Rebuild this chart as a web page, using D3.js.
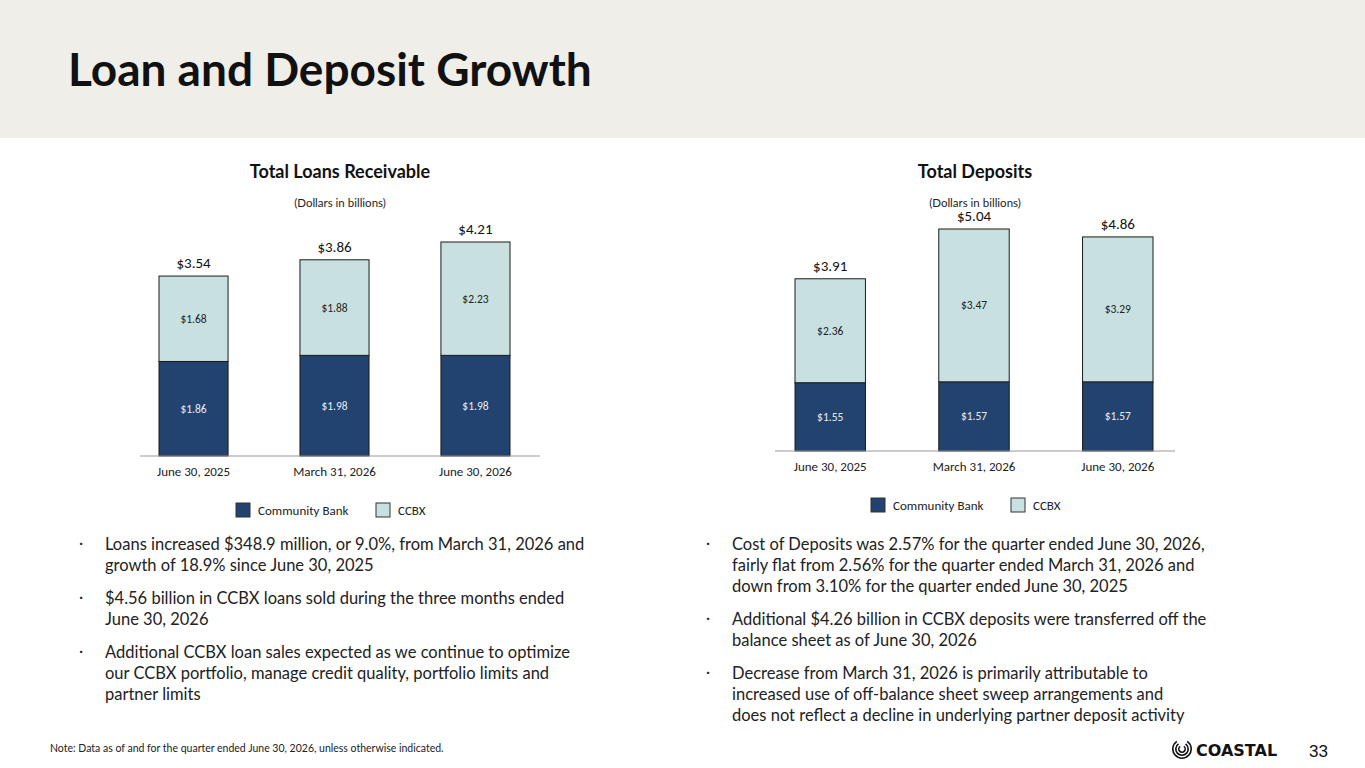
<!DOCTYPE html>
<html><head><meta charset="utf-8">
<script src="https://cdn.jsdelivr.net/npm/d3@7"></script>
<style>
body{margin:0;background:#fff;}
svg{display:block;}
</style></head>
<body><svg></svg>
<script>
const categories = ["June 30, 2025", "March 31, 2026", "June 30, 2026"];
const loansCommunity = [1.86, 1.98, 1.98];
const loansCCBX = [1.68, 1.88, 2.23];
const loansTotal = [3.54, 3.86, 4.21];
const depCommunity = [1.55, 1.57, 1.57];
const depCCBX = [2.36, 3.47, 3.29];
const depTotal = [3.91, 5.04, 4.86];
const seriesNames = ["Community Bank", "CCBX"];

const W = 1365, H = 768;
const navy = "#22426f", light = "#c9e0e0";
const svg = d3.select("svg").attr("width", W).attr("height", H);
const font = "Lato, 'Open Sans', sans-serif";
const calibri = "Carlito, 'Liberation Sans', 'Open Sans', sans-serif";

// header band
svg.append("rect").attr("width", W).attr("height", 138).attr("fill", "#efeee9");
svg.append("text").attr("x", 68).attr("y", 86).text("Loan and Deposit Growth")
    .style("font-family", font).style("font-weight", 700).style("font-size", "46px").attr("fill", "#111");

function drawChart(opt){
    const g = svg.append("g");
    const x = d3.scaleBand().domain(categories).range([opt.b0, opt.b1]).paddingInner(0.51).paddingOuter(0);
    const y = d3.scaleLinear().domain([0, opt.max]).range([opt.base, opt.top]);
    const stacked = d3.stack().keys([0, 1])(categories.map((c, i) => ({c, 0: opt.a[i], 1: opt.b[i]})));

    stacked.forEach((s, k) => {
        g.selectAll(null).data(s).enter().append("rect")
            .attr("x", d => x(d.data.c)).attr("width", x.bandwidth())
            .attr("y", d => y(d[1])).attr("height", d => y(d[0]) - y(d[1]))
            .attr("fill", k ? light : navy).attr("stroke", "#1b1b1b").attr("stroke-width", 1);
        g.selectAll(null).data(s).enter().append("text")
            .attr("x", d => x(d.data.c) + x.bandwidth() / 2)
            .attr("y", d => (y(d[0]) + y(d[1])) / 2 + 4)
            .attr("text-anchor", "middle").attr("fill", k ? "#222" : "#e8eef6")
            .style("font-family", calibri).style("font-size", "11.5px")
            .text(d => "$" + (d[1] - d[0]).toFixed(2));
    });
    g.selectAll(null).data(opt.t).enter().append("text")
        .attr("x", (d, i) => x(categories[i]) + x.bandwidth() / 2)
        .attr("y", d => y(d) - 8).attr("text-anchor", "middle")
        .style("font-family", calibri).style("font-size", "15px").attr("fill", "#111")
        .text(d => "$" + d.toFixed(2));

    const axis = g.append("g").attr("transform", `translate(0,${opt.base})`)
        .call(d3.axisBottom(x).tickSize(0).tickPadding(11));
    axis.select(".domain").remove();
    g.append("line").attr("x1", opt.x0).attr("x2", opt.x1).attr("y1", opt.base).attr("y2", opt.base).attr("stroke", "#999");
    axis.selectAll("text").style("font-family", calibri).style("font-size", "13px").attr("fill", "#222");

    const cx = (opt.x0 + opt.x1) / 2;
    g.append("text").attr("x", cx).attr("y", 178).attr("text-anchor", "middle").text(opt.title)
        .style("font-family", font).style("font-weight", 700).style("font-size", "18px").attr("fill", "#111");
    g.append("text").attr("x", cx).attr("y", 207).attr("text-anchor", "middle").text("(Dollars in billions)")
        .style("font-family", font).style("font-size", "11.5px").attr("fill", "#222");

    const lg = g.append("g").attr("transform", `translate(${cx - 104},${opt.base + 54})`);
    seriesNames.forEach((n, i) => {
        const ox = i ? 140 : 0;
        lg.append("rect").attr("x", ox).attr("y", -7).attr("width", 14).attr("height", 14)
            .attr("fill", i ? light : navy).attr("stroke", "#333");
        lg.append("text").attr("x", ox + 22).attr("y", 5).text(n)
            .style("font-family", calibri).style("font-size", "13px").attr("fill", "#222");
    });
}

drawChart({x0: 140, x1: 540, b0: 159, b1: 510, base: 456, top: 242, max: 4.21, a: loansCommunity, b: loansCCBX, t: loansTotal, title: "Total Loans Receivable"});
drawChart({x0: 775, x1: 1175, b0: 795, b1: 1153, base: 451, top: 229, max: 5.04, a: depCommunity, b: depCCBX, t: depTotal, title: "Total Deposits"});

function bullets(x, y, items){
    items.forEach(lines => {
        svg.append("text").attr("x", x - 26).attr("y", y - 2).text("·")
            .style("font-family", font).style("font-size", "16px").attr("fill", "#222");
        lines.forEach(l => {
            svg.append("text").attr("x", x).attr("y", y).text(l)
                .style("font-family", font).style("font-size", "16.5px").attr("fill", "#222");
            y += 21;
        });
        y += 12;
    });
}
bullets(105, 550, [
    ["Loans increased $348.9 million, or 9.0%, from March 31, 2026 and", "growth of 18.9% since June 30, 2025"],
    ["$4.56 billion in CCBX loans sold during the three months ended", "June 30, 2026"],
    ["Additional CCBX loan sales expected as we continue to optimize", "our CCBX portfolio, manage credit quality, portfolio limits and", "partner limits"]
]);
bullets(732, 550, [
    ["Cost of Deposits was 2.57% for the quarter ended June 30, 2026,", "fairly flat from 2.56% for the quarter ended March 31, 2026 and", "down from 3.10% for the quarter ended June 30, 2025"],
    ["Additional $4.26 billion in CCBX deposits were transferred off the", "balance sheet as of June 30, 2026"],
    ["Decrease from March 31, 2026 is primarily attributable to", "increased use of off-balance sheet sweep arrangements and", "does not reflect a decline in underlying partner deposit activity"]
]);

svg.append("text").attr("x", 50).attr("y", 752).text("Note:  Data as of and for the quarter ended June 30, 2026, unless otherwise indicated.")
    .style("font-family", font).style("font-size", "10.5px").attr("fill", "#222");

// logo
const logo = svg.append("g").attr("transform", "translate(1182,749)");
[10, 7, 4].forEach(r => logo.append("path")
    .attr("d", d3.arc()({innerRadius: r - 1.6, outerRadius: r, startAngle: 0.6, endAngle: 2 * Math.PI - 0.6}))
    .attr("fill", "#111"));
svg.append("text").attr("x", 1196).attr("y", 756).text("COASTAL")
    .style("font-family", "'DejaVu Sans', sans-serif").style("font-weight", 900).style("font-size", "16px").attr("fill", "#111");
svg.append("text").attr("x", 1309).attr("y", 757).text("33")
    .style("font-family", "'Liberation Sans', sans-serif").style("font-size", "17px").attr("fill", "#111");
</script></body></html>
